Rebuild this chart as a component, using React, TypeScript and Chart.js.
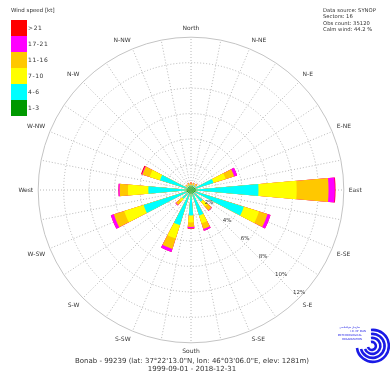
import React, { useEffect, useRef } from 'react';
import { Chart, registerables } from 'chart.js';

Chart.register(...registerables);

// ---- data ----
const directions = ['North', 'N-NE', 'N-E', 'E-NE', 'East', 'E-SE', 'S-E', 'S-SE', 'South', 'S-SW', 'S-W', 'W-SW', 'West', 'W-NW', 'N-W', 'N-NW'];
const speedClasses = ['1-3', '4-6', '7-10', '11-16', '17-21', '>21'];
const classColors = ['#009900', '#00ffff', '#ffff00', '#ffc800', '#ff00ff', '#ff0000'];
// frequency (%) per direction, per speed class
const freq1to3 = [0.3, 0.3, 0.3, 0.35, 0.4, 0.35, 0.3, 0.3, 0.3, 0.3, 0.3, 0.35, 0.35, 0.3, 0.3, 0.3];
const freq4to6 = [0.1, 0.1, 0.15, 1.5, 4.9, 4.0, 0.9, 1.8, 1.7, 2.6, 0.6, 3.55, 3.0, 2.25, 0.1, 0.1];
const freq7to10 = [0.1, 0.1, 0.1, 1.0, 3.0, 1.25, 0.5, 0.65, 0.55, 1.1, 0.3, 1.6, 1.6, 0.85, 0.1, 0.1];
const freq11to16 = [0.1, 0.1, 0.1, 0.7, 2.5, 0.7, 0.4, 0.45, 0.35, 0.85, 0.35, 0.85, 0.65, 0.6, 0.05, 0.1];
const freq17to21 = [0, 0, 0, 0.25, 0.5, 0.25, 0.05, 0.15, 0.1, 0.25, 0.05, 0.25, 0.1, 0.05, 0, 0];
const freqOver21 = [0, 0, 0, 0, 0.05, 0, 0, 0, 0.05, 0, 0, 0, 0, 0.07, 0, 0];
const ringTicks = [2, 4, 6, 8, 10, 12];
const ringTickLabels = ['2%', '4%', '6%', '8%', '10%', '12%'];
const infoLines = ['Data source: SYNOP', 'Sectors: 16', 'Obs count: 35120', 'Calm wind: 44.2 %'];
const captionLines = ['Bonab - 99239 (lat: 37°22\'13.0"N, lon: 46°03\'06.0"E, elev: 1281m)', '1999-09-01 - 2018-12-31'];

const WEDGE = 10; // degrees
const SECTOR = 360 / directions.length;
const FONT = '"DejaVu Sans", sans-serif';

const series = [freq1to3, freq4to6, freq7to10, freq11to16, freq17to21, freqOver21];
const cumulative = series.map((_, k) =>
  directions.map((_, i) => series.slice(0, k + 1).reduce((s, arr) => s + arr[i], 0))
);
// 32 angular positions: direction names interleaved with blank half-sectors
const pointLabels = directions.flatMap((d) => [d, '']);

export default function App() {
  const ref = useRef<HTMLCanvasElement>(null);
  useEffect(() => {
    document.body.style.margin = '0';
    const ringLabels = {
      id: 'ringLabels',
      afterDatasetsDraw(chart: any) {
        const s = chart.scales.r;
        const ctx = chart.ctx;
        ctx.save();
        ctx.font = `5.5px ${FONT}`;
        ctx.fillStyle = '#333';
        ctx.textAlign = 'center';
        ctx.textBaseline = 'middle';
        const seIndex = pointLabels.indexOf('S-E');
        ringTicks.forEach((v, i) => {
          const p = s.getPointPosition(seIndex, s.getDistanceFromCenterForValue(v));
          ctx.fillText(ringTickLabels[i], p.x, p.y - 5);
        });
        ctx.restore();
      },
    };
    const chart = new Chart(ref.current!, {
      type: 'polarArea',
      data: {
        labels: pointLabels,
        datasets: cumulative.map((cum, k) => ({
          label: speedClasses[k],
          data: [0, ...cum.flatMap((v) => [v, 0])],
          backgroundColor: classColors[k],
          borderWidth: 0,
          angle: (c: any) => (c.dataIndex === 0 ? -WEDGE / 2 : c.dataIndex % 2 === 1 ? WEDGE : SECTOR - WEDGE),
        })) as any,
      },
      options: {
        responsive: false,
        animation: false,
        layout: { padding: { top: 25, bottom: 27, left: 6, right: 16 } },
        plugins: { legend: { display: false }, tooltip: { enabled: false } },
        scales: {
          r: {
            min: 0,
            max: 12,
            startAngle: 0,
            ticks: { display: false, stepSize: 2 },
            grid: {
              circular: true,
              color: (c: any) => (c.tick && c.tick.value === 12 ? '#c4c4c4' : '#b4b4b4'),
              lineWidth: 1,
            },
            border: { dash: (c: any) => (c.tick && c.tick.value === 12 ? [] : [1, 2]) } as any,
            angleLines: { display: true, color: '#b8b8b8', lineWidth: 1, borderDash: [1, 2] },
            pointLabels: { display: true, padding: 5, color: '#333', font: { family: FONT, size: 6 } },
          },
        },
      },
      plugins: [ringLabels],
    });
    return () => chart.destroy();
  }, []);

  const legendRows = speedClasses.map((_, k) => speedClasses.length - 1 - k);
  return (
    <div style={{ position: 'absolute', left: 0, top: 0, width: 392, height: 382, background: '#fff', fontFamily: FONT, color: '#333' }}>
      <canvas ref={ref} width={392} height={382} style={{ position: 'absolute', left: 0, top: 0 }} />
      <div style={{ position: 'absolute', left: 11, top: 7, fontSize: 5.5, lineHeight: '6px', whiteSpace: 'nowrap' }}>Wind speed [kt]</div>
      {legendRows.map((k, j) => (
        <React.Fragment key={k}>
          <div style={{ position: 'absolute', left: 11, top: 20 + j * 16, width: 16, height: 16, background: classColors[k] }} />
          <div style={{ position: 'absolute', left: 28, top: 20 + j * 16, height: 16, lineHeight: '16px', fontSize: 6, letterSpacing: 0.6, whiteSpace: 'nowrap' }}>{speedClasses[k]}</div>
        </React.Fragment>
      ))}
      <div style={{ position: 'absolute', left: 323, top: 7, fontSize: 5.25, lineHeight: '6.33px', whiteSpace: 'nowrap' }}>
        {infoLines.map((l) => <div key={l}>{l}</div>)}
      </div>
      <div style={{ position: 'absolute', left: 0, width: 384, top: 357, fontSize: 7, lineHeight: '8.3px', textAlign: 'center', whiteSpace: 'nowrap' }}>
        {captionLines.map((l) => <div key={l}>{l}</div>)}
      </div>
      <svg style={{ position: 'absolute', left: 330, top: 322 }} width={60} height={44} viewBox="0 0 60 44">
        <g fill="none" stroke="#1a1ae6" strokeWidth={2.6}>
          <path d="M41 8 A16 16 0 1 1 27 26" />
          <path d="M41 12 A12 12 0 1 1 31 27" />
          <path d="M41 16 A8 8 0 1 1 35 27" />
          <path d="M41 20 A4 4 0 1 1 38 25" />
        </g>
        <g fill="#1a1ae6" fontFamily={FONT} fontSize={2.6} textAnchor="end">
          <text x={30} y={6}>سازمان هواشناسی</text>
          <text x={36} y={10}>I.R. OF IRAN</text>
          <text x={32} y={14}>METEOROLOGICAL</text>
          <text x={32} y={17.5}>ORGANIZATION</text>
        </g>
      </svg>
    </div>
  );
}
